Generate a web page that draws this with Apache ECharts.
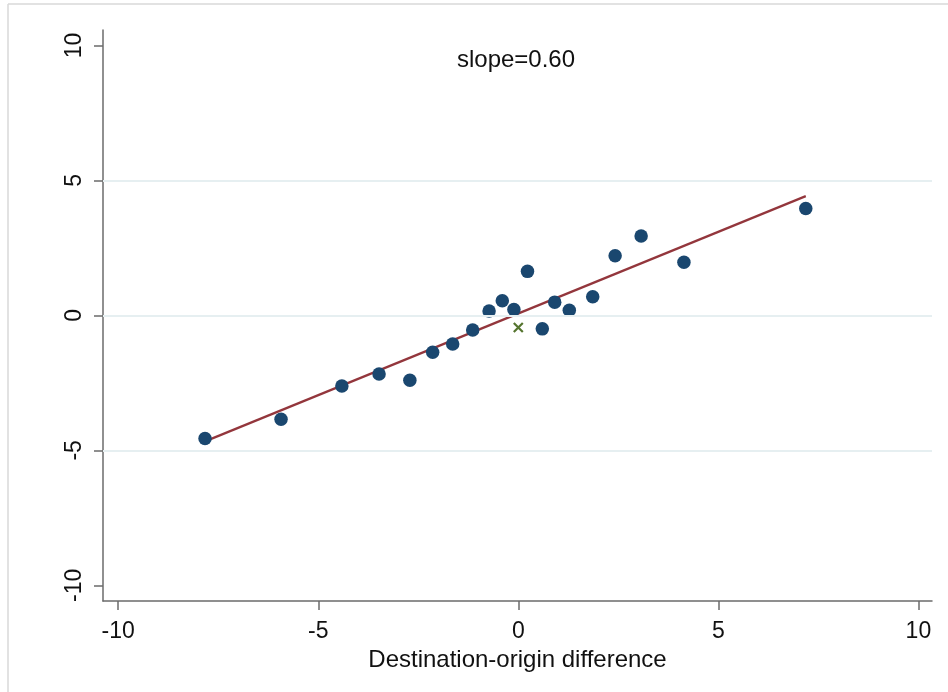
<!DOCTYPE html>
<html>
<head>
<meta charset="utf-8">
<style>
  html, body { margin: 0; padding: 0; background: #fff; }
  #chart { width: 948px; height: 692px; }
</style>
<script src="https://cdn.jsdelivr.net/npm/echarts@6/dist/echarts.min.js"></script>
</head>
<body>
<div id="chart"></div>
<script>
// points
var diffX = [-7.83, -5.93, -4.41, -3.48, -2.71, -2.14, -1.64, -1.14, -0.73, -0.40,
             -0.11, 0.23, 0.60, 0.91, 1.275, 1.86, 2.42, 3.07, 4.14, 7.185];
var diffY = [-4.56, -3.85, -2.62, -2.17, -2.40, -1.37, -1.06, -0.54, 0.16, 0.54,
             0.22, 1.63, -0.50, 0.49, 0.19, 0.69, 2.21, 2.94, 1.97, 3.96];
var markX = [0];
var markY = [-0.45];
var fitSlope = 0.605;
var fitIntercept = 0.07;
var tickValues = [-10, -5, 0, 5, 10];
var gridValues = [-5, 0, 5];
var slopeLabel = 'slope=0.60';

var points = diffX.map(function (x, i) { return [x, diffY[i]]; });
var cross = markX.map(function (x, i) { return [x, markY[i]]; });
var xLo = Math.min.apply(null, diffX), xHi = Math.max.apply(null, diffX);
var fitLine = [[xLo, fitIntercept + fitSlope * xLo], [xHi, fitIntercept + fitSlope * xHi]];

var font = 'Liberation Sans, Arial, Helvetica, sans-serif';

option = {
    backgroundColor: '#fff',
    animation: false,
    grid: { left: 103, right: 16, top: 30, bottom: 91 },
    xAxis: {
        type: 'value',
        min: -10.38,
        max: 10.34,
        name: 'Destination-origin difference',
        nameLocation: 'middle',
        nameGap: 38,
        nameTextStyle: { color: '#111', fontSize: 24, fontFamily: font },
        axisLine: { show: true, onZero: false, lineStyle: { color: '#6b6b6b', width: 1.5 } },
        axisTick: { show: true, length: 9, customValues: tickValues, lineStyle: { color: '#6b6b6b', width: 1.5 } },
        axisLabel: { customValues: tickValues, margin: 19, color: '#111', fontSize: 23, fontFamily: font },
        splitLine: { show: false }
    },
    yAxis: {
        type: 'value',
        min: -10.58,
        max: 10.57,
        axisLine: { show: true, onZero: false, lineStyle: { color: '#6b6b6b', width: 1.5 } },
        axisTick: { show: true, length: 9, customValues: tickValues, lineStyle: { color: '#6b6b6b', width: 1.5 } },
        axisLabel: { customValues: tickValues, rotate: 90, margin: 17, color: '#111', fontSize: 23, fontFamily: font },
        splitLine: { show: false }
    },
    graphic: [
        { type: 'line', shape: { x1: 8, y1: 4, x2: 948, y2: 4 }, style: { stroke: '#d9d9d9', lineWidth: 1.5 } },
        { type: 'line', shape: { x1: 8, y1: 4, x2: 8, y2: 692 }, style: { stroke: '#d9d9d9', lineWidth: 1.5 } },
        { type: 'text', x: 516, y: 60, style: { text: slopeLabel, fill: '#111', fontSize: 24, fontFamily: font, textAlign: 'center', textVerticalAlign: 'middle' } }
    ],
    series: [
        {
            type: 'line',
            data: [],
            silent: true,
            markLine: {
                silent: true,
                symbol: 'none',
                label: { show: false },
                lineStyle: { color: '#e6eff1', width: 2, type: 'solid' },
                data: gridValues.map(function (v) { return { yAxis: v }; })
            }
        },
        {
            type: 'line',
            data: fitLine,
            symbol: 'none',
            lineStyle: { color: '#93363c', width: 2.2 },
            z: 3
        },
        {
            type: 'scatter',
            data: points,
            symbol: 'circle',
            symbolSize: 13.5,
            itemStyle: { color: '#1a476f', opacity: 1 },
            z: 4
        },
        {
            type: 'scatter',
            data: cross,
            symbol: 'path://M0,0 L10,10 M10,0 L0,10',
            symbolSize: 9,
            itemStyle: { color: 'none', borderColor: '#55752f', borderWidth: 2.2, opacity: 1 },
            z: 4
        }
    ]
};

var myChart = echarts.init(document.getElementById('chart'));
myChart.setOption(option);
</script>
</body>
</html>
